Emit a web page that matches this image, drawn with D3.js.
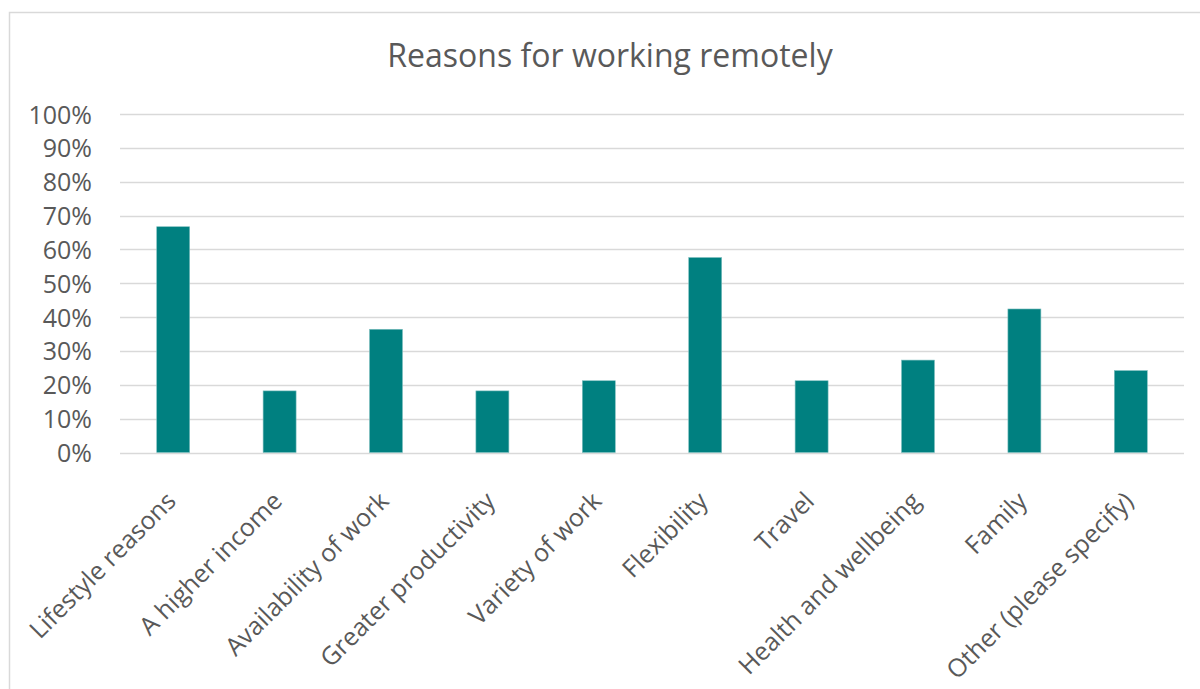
<!DOCTYPE html>
<html>
<head>
<meta charset="utf-8">
<script src="https://cdn.jsdelivr.net/npm/d3@7"></script>
<style>
  body { margin: 0; background: #fff; }
  svg { display: block; }
  svg text { font-family: "Open Sans", sans-serif; }
  .tick text { fill: #595959; }
</style>
</head>
<body>
<svg id="chart" width="1200" height="689"></svg>
<script>
// chart data
var categories = ["Lifestyle reasons", "A higher income", "Availability of work", "Greater productivity",
                  "Variety of work", "Flexibility", "Travel", "Health and wellbeing", "Family",
                  "Other (please specify)"];
var shares = [0.667, 0.182, 0.364, 0.182, 0.212, 0.576, 0.212, 0.273, 0.424, 0.242];
var yTicks = [0, 0.1, 0.2, 0.3, 0.4, 0.5, 0.6, 0.7, 0.8, 0.9, 1.0];
var title = "Reasons for working remotely";

var svg = d3.select("#chart");

// outer frame (only top/left visible in the picture)
svg.append("rect")
  .attr("x", 9.5).attr("y", 12.5)
  .attr("width", 1400).attr("height", 1000)
  .style("fill", "none")
  .style("stroke", "#d9d9d9")
  .style("stroke-width", 1.5);

var plotLeft = 120, plotRight = 1184, plotTop = 114, plotBottom = 452.5;

var x = d3.scaleBand()
  .domain(categories)
  .range([plotLeft, plotRight])
  .paddingInner(0.69)
  .paddingOuter(0.345);

var y = d3.scaleLinear()
  .domain([0, 1])
  .range([plotBottom, plotTop]);

// gridlines
svg.append("g")
  .selectAll("line")
  .data(yTicks)
  .join("line")
  .attr("x1", plotLeft).attr("x2", plotRight)
  .attr("y1", function(d) { return Math.round(y(d)) + 0.5; })
  .attr("y2", function(d) { return Math.round(y(d)) + 0.5; })
  .style("stroke", "#d9d9d9")
  .style("stroke-width", 1.5);

// y axis labels
var yAxis = svg.append("g")
  .attr("transform", "translate(" + (plotLeft - 28) + ",0)")
  .call(d3.axisLeft(y).tickValues(yTicks).tickFormat(d3.format(".0%")).tickSize(0));
yAxis.attr("font-family", null);
yAxis.select(".domain").remove();
yAxis.selectAll("text")
  .style("font-size", "25px")
  .attr("x", 0)
  .attr("dy", "0.36em");

// bars
svg.append("g")
  .selectAll("rect")
  .data(shares)
  .join("rect")
  .attr("x", function(d, i) { return x(categories[i]); })
  .attr("y", function(d) { return y(d); })
  .attr("width", x.bandwidth())
  .attr("height", function(d) { return y(0) - y(d); })
  .style("fill", "#008080")
  .style("stroke", "#7fbfbf")
  .style("stroke-width", 0.6);

// x axis labels, rotated
var xAxis = svg.append("g")
  .attr("transform", "translate(0," + plotBottom + ")")
  .call(d3.axisBottom(x).tickSize(0));
xAxis.attr("font-family", null);
xAxis.select(".domain").remove();
xAxis.selectAll("text")
  .style("font-size", "25px")
  .style("text-anchor", "end")
  .attr("y", 0)
  .attr("dy", "0.35em")
  .attr("transform", "translate(-2,44) rotate(-45)");

// title
svg.append("text")
  .attr("x", 610)
  .attr("y", 67)
  .style("text-anchor", "middle")
  .style("font-size", "32px")
  .style("fill", "#595959")
  .text(title);
</script>
</body>
</html>
